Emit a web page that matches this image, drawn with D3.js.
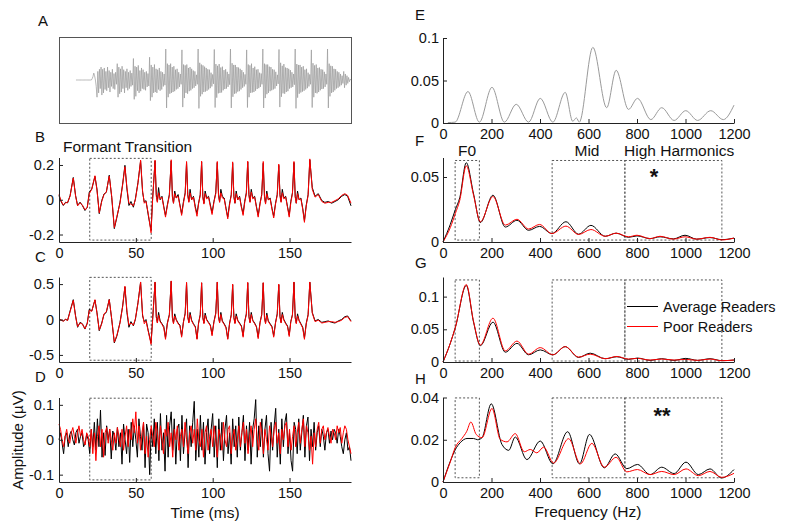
<!DOCTYPE html>
<html><head><meta charset="utf-8">
<script src="https://cdn.jsdelivr.net/npm/d3@7"></script>
<style>
body{margin:0;background:#fff}
svg{display:block}
text{font-family:"Liberation Sans",Arial,Helvetica,sans-serif}
</style>
</head><body>
<svg id="c" width="795" height="531"></svg>
<script>
// ---------------- DATA ----------------
// Panel A: stimulus waveform, 0.5 ms samples from 0 to 170 ms (arbitrary units)
const stimStep = 0.5;
const stimulus = [
0,0,0,0,0,0,0,0,0,0,0,0,0,0,0,0,0,0,0,0,3,8,16,10,0,-15,
-40,20,-30,25,-20,
30,-35,25,-30,28,-22,20,-25,30,-18,22,-28,18,-15,25,-20,15,-22,18,-10,
38,-40,30,-32,26,-28,32,-20,24,-30,20,-18,26,-24,18,-20,22,-15,16,-12,
50,-45,32,-38,30,-25,34,-30,22,-26,28,-20,24,-22,18,-24,20,-16,15,-14,
53,-48,35,-40,30,-30,36,-28,26,-30,24,-22,28,-25,20,-22,18,-15,14,-12,
72,-65,38,-40,35,-32,38,-30,30,-28,32,-26,24,-22,26,-20,18,-16,14,-10,
70,-63,36,-42,34,-30,36,-32,28,-26,30,-24,26,-20,22,-18,20,-14,12,-10,
72,-66,40,-38,36,-33,34,-28,31,-27,28,-25,25,-22,24,-19,17,-15,13,-9,
71,-64,37,-41,33,-31,37,-30,29,-29,31,-24,23,-21,25,-20,19,-16,14,-11,
72,-65,39,-39,35,-32,35,-31,30,-27,29,-26,26,-22,23,-18,18,-15,13,-10,
70,-64,36,-40,34,-30,38,-29,28,-28,31,-25,24,-21,25,-19,17,-16,15,-10,
72,-65,38,-42,36,-33,36,-30,31,-26,30,-24,25,-22,24,-20,19,-14,12,-9,
71,-63,40,-39,33,-31,37,-32,29,-28,28,-26,26,-20,23,-18,18,-16,14,-11,
72,-66,37,-41,35,-32,35,-29,30,-27,32,-25,24,-22,26,-19,17,-15,13,-10,
70,-64,39,-40,34,-30,36,-31,28,-28,29,-24,25,-21,24,-20,19,-16,14,-10,
72,-65,38,-38,33,-30,32,-28,26,-24,25,-20,20,-18,18,-15,14,-12,10,-8,
20,-18,14,-12,10,-8,6,-4,2,0];

// Panels B, C: response waveforms (time in ms, amplitude in µV)
const timeBC = [0,1.3,2.8,4.3,5.6,7.2,9.3,10.8,12.1,13.7,15.2,16.9,18.4,19.7,21.3,23.4,24.7,26.2,27.8,29.3,30.8,32.7,34.3,36,37.7,39.7,41.4,42.9,44.2,45.5,46.8,48.4,49.7,51.4,53.1,54.4,55.5,56.6,58.1,59.9,60.9,
62.5,63.3,64,64.8,65.8,67,68.2,69.3,70.5,71.8,
73,73.8,74.5,75.3,76.3,77.5,78.7,79.8,81,82.1,
83,83.8,84.5,85.3,86.3,87.5,88.7,89.8,90.8,91.9,
92.8,93.6,94.3,95.1,96.1,97.3,98.5,99.6,100.8,102,
103,103.8,104.5,105.3,106.3,107.5,108.7,109.8,111,112.1,
113,113.8,114.5,115.3,116.3,117.5,118.7,119.8,120.8,121.9,
122.8,123.6,124.3,125.1,126.1,127.3,128.5,129.6,130.8,131.9,
132.9,133.7,134.4,135.2,136.2,137.4,138.6,139.7,140.9,142,
143,143.8,144.5,145.3,146.3,147.5,148.7,149.8,150.8,151.9,
152.9,153.7,154.4,155.2,156.2,157.4,158.6,159.7,160.9,162.1,
163.2,164.8,166.6,168.7,171,173,175.2,177.4,179.6,181.7,183.9,186,187.8,190];

const bAverage = [0.024,-0.01,-0.033,-0.014,-0.018,0.024,0.128,0.024,-0.033,-0.014,-0.033,-0.062,-0.043,0.043,0.062,0.134,0.062,-0.08,-0.005,0.033,0.043,0.141,0.014,-0.166,-0.1,-0.014,0.09,0.198,0.062,-0.033,-0.01,-0.043,0.005,0.1,0.223,0.043,-0.014,-0.005,-0.09,-0.176,0.005,
0.223,0.03,-0.01,0.07,0.0,0.02,-0.04,-0.09,-0.03,0.03,
0.223,0.02,-0.02,0.05,0.01,0.03,-0.03,-0.08,-0.01,0.04,
0.214,0.03,-0.01,0.06,0.0,0.02,-0.04,-0.08,-0.02,0.03,
0.217,0.02,-0.02,0.05,0.01,0.02,-0.03,-0.075,-0.01,0.04,
0.214,0.03,-0.01,0.06,0.02,0.01,-0.05,-0.10,-0.02,0.03,
0.21,0.02,-0.02,0.05,0.0,0.02,-0.04,-0.08,-0.01,0.04,
0.217,0.03,-0.01,0.06,0.01,0.02,-0.04,-0.09,-0.02,0.03,
0.21,0.02,-0.02,0.05,0.0,0.01,-0.05,-0.095,-0.02,0.03,
0.198,0.03,-0.01,0.06,0.01,0.02,-0.04,-0.09,-0.01,0.04,
0.214,0.02,-0.02,0.05,0.0,0.01,-0.05,-0.12,-0.03,0.03,
0.229,0.07,0.02,0.035,-0.005,-0.015,-0.01,-0.02,-0.01,0.0,0.02,0.03,0.02,-0.035];
const bPoor = [0.03,-0.005,-0.03,-0.018,-0.015,0.02,0.125,0.02,-0.035,-0.018,-0.03,-0.058,-0.045,0.035,0.06,0.138,0.055,-0.075,-0.01,0.03,0.045,0.136,0.02,-0.16,-0.095,-0.02,0.085,0.19,0.07,-0.02,-0.025,-0.035,0.0,0.095,0.228,0.05,-0.02,-0.01,-0.08,-0.19,0.0,
0.228,0.02,-0.015,0.04,0.005,0.015,-0.045,-0.1,-0.035,0.025,
0.23,0.015,-0.02,0.035,0.01,0.02,-0.035,-0.09,-0.02,0.035,
0.22,0.02,-0.015,0.04,0.0,0.015,-0.05,-0.095,-0.025,0.025,
0.222,0.01,-0.025,0.035,0.005,0.015,-0.04,-0.085,-0.015,0.035,
0.22,0.02,-0.015,0.04,0.01,0.005,-0.055,-0.11,-0.03,0.025,
0.218,0.015,-0.02,0.035,0.0,0.015,-0.045,-0.09,-0.02,0.035,
0.222,0.02,-0.015,0.045,0.005,0.015,-0.045,-0.1,-0.025,0.025,
0.22,0.015,-0.025,0.035,0.0,0.005,-0.055,-0.105,-0.025,0.025,
0.205,0.02,-0.015,0.04,0.005,0.015,-0.045,-0.1,-0.02,0.035,
0.22,0.015,-0.02,0.035,0.0,0.005,-0.055,-0.13,-0.035,0.025,
0.235,0.06,0.015,0.03,-0.01,-0.02,-0.015,-0.015,-0.005,0.005,0.025,0.035,0.025,-0.02];

const cAverage = [0.0,-0.01,-0.02,0.0,-0.01,0.12,0.28,0.05,-0.11,-0.04,-0.06,-0.135,-0.05,0.144,0.12,0.275,0.1,-0.158,-0.05,0.074,0.1,0.284,0.0,-0.33,-0.23,-0.04,0.19,0.46,0.1,-0.11,-0.03,-0.09,0.0,0.24,0.526,0.05,-0.03,0.0,-0.16,-0.33,0.0,
0.526,0.04,-0.04,0.1,-0.02,-0.06,-0.1,-0.26,-0.05,0.07,
0.54,0.03,-0.05,0.08,0.0,-0.05,-0.08,-0.23,-0.03,0.09,
0.517,0.04,-0.04,0.1,-0.01,-0.06,-0.1,-0.27,-0.05,0.07,
0.517,0.03,-0.05,0.09,0.0,-0.04,-0.08,-0.21,-0.03,0.09,
0.526,0.04,-0.04,0.1,-0.02,-0.06,-0.11,-0.27,-0.05,0.07,
0.49,0.03,-0.05,0.08,-0.01,-0.05,-0.09,-0.23,-0.03,0.08,
0.517,0.04,-0.04,0.1,-0.01,-0.05,-0.1,-0.25,-0.04,0.07,
0.517,0.03,-0.05,0.09,-0.02,-0.06,-0.1,-0.23,-0.04,0.08,
0.49,0.04,-0.04,0.1,0.0,-0.05,-0.09,-0.22,-0.03,0.07,
0.526,0.03,-0.05,0.08,-0.01,-0.06,-0.11,-0.26,-0.05,0.07,
0.526,0.1,-0.02,0.0,-0.04,-0.03,-0.02,-0.04,-0.05,-0.02,0.0,0.04,0.05,-0.02];
const cPoor = [0.01,-0.005,-0.025,0.005,-0.015,0.11,0.27,0.04,-0.1,-0.05,-0.065,-0.13,-0.055,0.13,0.115,0.28,0.09,-0.15,-0.06,0.08,0.11,0.28,0.01,-0.32,-0.22,-0.05,0.18,0.47,0.12,-0.08,-0.05,-0.08,0.01,0.23,0.53,0.07,-0.06,-0.02,-0.17,-0.35,-0.01,
0.53,0.03,-0.05,0.06,-0.03,-0.07,-0.12,-0.28,-0.06,0.06,
0.545,0.02,-0.06,0.05,-0.01,-0.06,-0.09,-0.25,-0.04,0.08,
0.525,0.03,-0.05,0.07,-0.02,-0.07,-0.11,-0.28,-0.06,0.06,
0.52,0.02,-0.06,0.06,-0.01,-0.05,-0.09,-0.23,-0.04,0.08,
0.53,0.03,-0.05,0.07,-0.03,-0.07,-0.12,-0.28,-0.06,0.06,
0.5,0.02,-0.06,0.05,-0.02,-0.06,-0.1,-0.25,-0.04,0.07,
0.525,0.03,-0.05,0.07,-0.02,-0.06,-0.11,-0.27,-0.05,0.06,
0.52,0.02,-0.06,0.06,-0.03,-0.07,-0.11,-0.25,-0.05,0.07,
0.5,0.03,-0.05,0.07,-0.01,-0.06,-0.1,-0.24,-0.04,0.06,
0.53,0.02,-0.06,0.05,-0.02,-0.07,-0.12,-0.28,-0.06,0.06,
0.53,0.09,-0.03,-0.01,-0.05,-0.04,-0.03,-0.03,-0.04,-0.03,-0.01,0.03,0.04,-0.03];

// Panel D: 1 ms samples, 0..190 ms
const dAverage = [0.0,0.02,-0.01,-0.04,0.01,0.02,-0.02,0.015,0.025,0.0,-0.015,0.02,0.03,-0.01,0.01,0.02,-0.02,-0.01,0.015,0.0,
-0.04,0.03,-0.02,0.05,-0.03,0.06,-0.02,0.085,-0.05,0.02,-0.045,0.04,0.0,0.03,-0.055,0.025,0.01,-0.03,0.035,-0.02,
0.02,-0.07,0.045,0.0,-0.04,0.03,-0.065,0.05,-0.02,0.04,0.0,-0.05,0.06,0.01,-0.03,0.05,-0.08,0.045,0.02,-0.1,
0.03,-0.02,0.06,-0.04,0.05,-0.06,0.075,-0.03,0.02,-0.09,0.07,-0.05,0.04,0.08,-0.03,0.06,-0.07,0.03,0.045,-0.06,
0.07,-0.04,0.02,0.06,-0.08,0.04,-0.02,0.05,0.11,-0.06,0.03,-0.05,0.07,-0.03,0.05,-0.07,0.02,0.06,-0.04,0.03,
0.075,-0.05,0.04,-0.08,0.06,-0.03,0.05,-0.06,0.03,0.07,-0.04,0.02,-0.07,0.06,-0.02,0.04,-0.05,0.065,-0.03,0.02,
0.07,-0.06,0.04,-0.03,0.05,-0.07,0.03,0.06,0.115,-0.05,0.04,-0.02,0.06,-0.05,0.03,0.07,-0.04,-0.09,0.05,-0.03,
0.04,0.09,-0.05,0.03,-0.07,0.06,-0.02,0.05,0.075,-0.04,0.02,-0.06,-0.09,0.05,0.03,-0.04,0.06,-0.03,0.02,0.07,
-0.05,0.04,0.065,-0.06,0.03,-0.02,0.05,-0.03,0.02,0.04,-0.02,0.03,0.01,-0.03,0.02,0.03,-0.01,0.025,0.0,0.03,
0.02,-0.01,0.03,0.01,-0.02,-0.04,0.0,0.02,-0.03,-0.02,-0.06];
const dPoor = [0.045,0.03,0.0,-0.02,0.01,0.03,0.0,-0.01,0.02,0.035,0.01,-0.01,0.02,0.04,0.01,0.03,0.0,-0.015,0.02,0.01,
-0.02,0.03,-0.04,0.02,-0.06,0.01,0.04,-0.02,0.03,-0.05,0.02,0.035,-0.01,0.03,0.0,-0.03,0.02,-0.01,0.035,0.01,
-0.02,0.03,-0.03,0.01,0.04,-0.02,0.03,0.0,0.06,0.02,0.08,-0.01,0.04,-0.03,0.02,0.05,-0.04,0.01,-0.05,0.0,
0.04,0.01,-0.02,0.05,0.02,-0.03,0.04,0.0,-0.04,0.03,0.01,0.05,-0.02,0.02,-0.05,0.03,0.0,0.04,-0.03,0.01,
0.03,-0.02,0.05,0.0,-0.04,0.02,0.04,-0.01,0.03,-0.03,0.06,0.0,-0.02,0.03,-0.05,0.02,0.04,-0.03,0.01,0.03,
-0.02,0.04,0.0,-0.05,0.03,0.01,-0.03,0.05,0.0,-0.02,0.03,0.04,-0.04,0.01,0.03,-0.03,0.0,0.04,-0.02,0.02,
0.05,-0.01,0.03,-0.04,0.01,0.04,-0.02,0.03,0.06,0.0,-0.03,0.05,0.02,-0.04,0.03,0.0,-0.03,0.04,0.01,-0.02,
0.03,0.05,-0.01,0.02,-0.04,0.03,0.0,0.04,0.05,-0.02,0.03,-0.03,0.01,0.04,-0.02,0.02,0.05,-0.01,0.03,0.06,
-0.02,0.04,0.02,-0.03,0.01,-0.07,0.02,-0.02,0.03,0.05,-0.01,0.03,0.04,0.0,0.02,0.035,0.01,-0.01,0.03,0.02,
0.0,0.04,0.02,0.035,-0.01,0.02,0.04,0.03,0.0,-0.02,-0.04];

// Panel E: stimulus spectrum
const eHz  = [20,50,103,150,202,253,302,353,401,453,504,535,550,562,618,675,714,765,802,857,902,953,1001,1050,1104,1156,1200];
const eAmp = [0.0005,0.001,0.037,0.001,0.042,0.001,0.022,0.001,0.029,0.001,0.036,0.002,0.006,0.001,0.089,0.018,0.062,0.016,0.029,0.004,0.018,0.003,0.0145,0.003,0.0145,0.004,0.021];

// Panel F
const fHz = [0,30,51,69,96,126,154,206,257,305,353,398,449,507,559,610,669,714,765,800,854,895,950,998,1046,1101,1150,1200];
const fAverage = [0,0.0135,0.025,0.034,0.061,0.037,0.015,0.036,0.0115,0.0167,0.009,0.012,0.0065,0.0156,0.006,0.0128,0.0044,0.0068,0.0036,0.0047,0.0026,0.004,0.0024,0.0052,0.0022,0.0034,0.0018,0.003];
const fPoor    = [0,0.011,0.022,0.032,0.0586,0.036,0.0156,0.035,0.013,0.0175,0.010,0.0135,0.0065,0.0122,0.0058,0.0096,0.0044,0.0068,0.004,0.0052,0.0026,0.0044,0.0022,0.004,0.0022,0.0036,0.0016,0.003];

// Panel G
const gHz = [0,30,51,96,126,154,206,257,305,353,401,453,504,559,607,669,717,765,802,854,902,953,1001,1050,1101,1150,1200];
const gAverage = [0,0.0285,0.053,0.117,0.061,0.025,0.061,0.015,0.0285,0.011,0.0185,0.011,0.0235,0.007,0.0135,0.005,0.008,0.004,0.006,0.0025,0.005,0.0025,0.0055,0.0025,0.005,0.002,0.003];
const gPoor    = [0,0.0285,0.053,0.1185,0.062,0.026,0.067,0.017,0.032,0.012,0.022,0.011,0.0235,0.0075,0.012,0.005,0.0085,0.0045,0.0055,0.003,0.0045,0.003,0.004,0.0025,0.0045,0.002,0.003];

// Panel H
const hHzAverage = [0,30,51,71,99,126,143,161,199,243,271,298,346,401,453,514,563,604,665,710,758,802,854,902,953,1002,1053,1101,1149,1200];
const hAverage   = [0,0.0098,0.0154,0.0186,0.0206,0.0206,0.020,0.021,0.037,0.0178,0.015,0.0213,0.0106,0.0194,0.0086,0.0238,0.0086,0.0225,0.0067,0.0133,0.0063,0.0083,0.0035,0.007,0.004,0.0094,0.0035,0.0062,0.0019,0.0059];
const hHzPoor = [0,30,51,78,98,115,137,161,202,236,264,298,335,360,387,415,456,518,567,614,665,714,758,802,854,902,953,1002,1053,1101,1149,1200];
const hPoor   = [0,0.0095,0.0165,0.0206,0.024,0.0284,0.0225,0.021,0.0348,0.0202,0.019,0.0229,0.0143,0.0154,0.0138,0.0165,0.009,0.0205,0.0086,0.0183,0.007,0.0117,0.0048,0.0059,0.0035,0.005,0.0035,0.0062,0.003,0.005,0.0022,0.0041];

// Ticks and labels
const timeTicks = [0,50,100,150];
const freqTicks = [0,200,400,600,800,1000,1200];
const bTicks = [-0.2,0,0.2], cTicks = [-0.5,0,0.5], dTicks = [-0.1,0,0.1];
const eTicks = [0,0.05,0.1], fTicks = [0,0.05], gTicks = [0,0.05,0.1], hTicks = [0,0.02,0.04];
const formantWindow = [20,60];          // ms
const bandWindows = [[50,150],[450,750],[750,1150]]; // Hz: F0, Mid, High
const seriesNames = ["Average Readers","Poor Readers"];
const colors = {average:"#000000", poor:"#ff0000", stim:"#9a9a9a", axis:"#222222", box:"#555555"};

// ---------------- DRAWING ----------------
const FF = '"Liberation Sans",Arial,Helvetica,sans-serif';
const svg = d3.select("#c");
const xL = d3.scaleLinear().domain([0,190]).range([59,351]);
const xR = d3.scaleLinear().domain([0,1200]).range([443,734]);
const rows = [[123,38],[242,157.5],[362,277],[482,397.5]];

const yB = d3.scaleLinear().domain([-0.243,0.243]).range(rows[1]);
const yC = d3.scaleLinear().domain([-0.6,0.6]).range(rows[2]);
const yD = d3.scaleLinear().domain([-0.121,0.121]).range(rows[3]);
const yE = d3.scaleLinear().domain([0,0.1]).range(rows[0]);
const yF = d3.scaleLinear().domain([0,0.065]).range(rows[1]);
const yG = d3.scaleLinear().domain([0,0.13]).range(rows[2]);
const yH = d3.scaleLinear().domain([0,0.04]).range(rows[3]);

function axes(x, y, xt, yt, pad){
  const fmt = d => String(d);
  const gx = svg.append("g").attr("transform",`translate(0,${y.range()[0]})`)
    .call(d3.axisBottom(x).tickValues(xt).tickSizeInner(-4).tickSizeOuter(0).tickPadding(5.5).tickFormat(fmt));
  const gy = svg.append("g").attr("transform",`translate(${x.range()[0]},0)`)
    .call(d3.axisLeft(y).tickValues(yt).tickSizeInner(-4).tickSizeOuter(0).tickPadding(pad).tickFormat(fmt));
  [gx,gy].forEach(g=>{
    g.attr("font-family",FF).attr("font-size",14.5);
    g.selectAll("path,line").attr("stroke",colors.axis);
    g.selectAll("text").attr("fill","#111");
  });
}

function line(x,y,xs,ys,color,curve,width){
  const pts = xs.map((t,i)=>[t,ys[i]]).filter(d=>d[1]!==undefined);
  const gen = d3.line().x(d=>x(d[0])).y(d=>y(d[1]));
  if(curve) gen.curve(curve);
  svg.append("path").datum(pts).attr("d",gen).attr("fill","none")
    .attr("stroke",color).attr("stroke-width",width||1).attr("stroke-linejoin","round");
}

function dashBox(x,y,x0,x1,y0,y1){
  svg.append("rect").attr("x",x(x0)).attr("y",y(y1))
    .attr("width",x(x1)-x(x0)).attr("height",y(y0)-y(y1))
    .attr("fill","none").attr("stroke",colors.box).attr("stroke-width",1).attr("stroke-dasharray","2,2");
}

function label(txt,x,y,size,opts={}){
  const t = svg.append("text").attr("x",x).attr("y",y).attr("font-size",size)
    .attr("font-family",FF).attr("fill","#111").text(txt);
  if(opts.anchor) t.attr("text-anchor",opts.anchor);
  if(opts.weight) t.attr("font-weight",opts.weight);
  if(opts.rotate) t.attr("transform",`rotate(${opts.rotate},${x},${y})`);
  return t;
}

// Panel A
const xA = d3.scaleLinear().domain([-10.5,170]).range([59,351]);
const yA = d3.scaleLinear().domain([-100,100]).range([123,37]);
svg.append("rect").attr("x",xA.range()[0]+0.5).attr("y",yA.range()[1]+0.5)
  .attr("width",xA.range()[1]-xA.range()[0]).attr("height",yA.range()[0]-yA.range()[1])
  .attr("fill","none").attr("stroke","#555").attr("stroke-width",1);
line(xA,yA,stimulus.map((v,i)=>i*stimStep),stimulus,colors.stim,null,0.7);

// Panels B, C, D
[[yB,bAverage,bPoor,[-0.232,0.238],bTicks,timeBC],
 [yC,cAverage,cPoor,[-0.575,0.595],cTicks,timeBC],
 [yD,dAverage,dPoor,[-0.115,0.119],dTicks,dAverage.map((v,i)=>i)]].forEach(([y,avg,poor,bx,ticks,ts])=>{
  dashBox(xL,y,formantWindow[0],formantWindow[1],bx[0],bx[1]);
  line(xL,y,ts,avg,colors.average);
  line(xL,y,ts,poor,colors.poor);
  axes(xL,y,timeTicks,ticks,5);
});

// Panel E
line(xR,yE,eHz,eAmp,colors.stim,d3.curveMonotoneX);
axes(xR,yE,freqTicks,eTicks,4);

// Panels F, G, H
[[yF,fHz,fAverage,fHz,fPoor,[0.0015,0.0627],fTicks],
 [yG,gHz,gAverage,gHz,gPoor,[0.0015,0.1255],gTicks],
 [yH,hHzAverage,hAverage,hHzPoor,hPoor,[0.002,0.0398],hTicks]].forEach(([y,hx1,a,hx2,p,bx,ticks])=>{
  bandWindows.forEach(w=>dashBox(xR,y,w[0],w[1],bx[0],bx[1]));
  line(xR,y,hx1,a,colors.average,d3.curveMonotoneX);
  line(xR,y,hx2,p,colors.poor,d3.curveMonotoneX);
  axes(xR,y,freqTicks,ticks,4);
});

// Legend (panel G)
svg.append("line").attr("x1",627).attr("x2",658).attr("y1",306.5).attr("y2",306.5).attr("stroke",colors.average).attr("stroke-width",1);
svg.append("line").attr("x1",627).attr("x2",658).attr("y1",326.5).attr("y2",326.5).attr("stroke",colors.poor).attr("stroke-width",1);
label(seriesNames[0],663,311.5,14.5);
label(seriesNames[1],663,331.5,14.5);

// Panel letters
label("A",38,26,15); label("B",35,142,15); label("C",35,262,15); label("D",35,382,15);
label("E",415,20,15); label("F",415,146,15); label("G",415,268,15); label("H",415,384,15);

// Annotations
label("Formant Transition",63,152,15.5);
label("F0",467,155.5,15.5,{anchor:"middle"});
label("Mid",587,155.5,15.5,{anchor:"middle"});
label("High Harmonics",624,155.5,15.5);
label("*",654,184,22,{anchor:"middle",weight:"bold"});
label("**",662,423,22,{anchor:"middle",weight:"bold"});

// Axis titles
label("Time (ms)",205,518,15.5,{anchor:"middle"});
label("Frequency (Hz)",588,517,15.5,{anchor:"middle"});
label("Amplitude (\u00B5V)",23,440,15,{anchor:"middle",rotate:-90});
</script>
</body></html>
